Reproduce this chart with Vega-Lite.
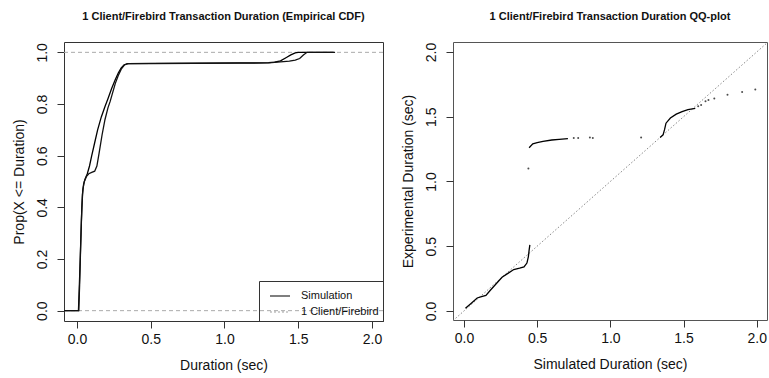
{
  "$schema": "https://vega.github.io/schema/vega-lite/v6.json",
  "padding": {"left": 11, "top": 10, "right": 0, "bottom": 0},
  "bounds": "flush",
  "spacing": 70,
  "background": "white",
  "config": {
    "font": "Liberation Sans",
    "view": {"stroke": "#333", "strokeWidth": 1},
    "axis": {"domain": false, "grid": false, "tickColor": "#333", "tickSize": 7, "labelFontSize": 14, "titleFontSize": 14, "titleFontWeight": "normal", "labelColor": "#111", "titleColor": "#111", "labelFont": "Liberation Sans", "titleFont": "Liberation Sans", "labelFlush": false, "labelOverlap": false},
    "axisX": {"labelPadding": 4, "titlePadding": 12},
    "axisY": {"labelAngle": -90, "labelAlign": "center", "labelBaseline": "bottom", "labelPadding": 8, "titlePadding": 9},
    "title": {"fontSize": 11, "fontWeight": "bold", "anchor": "middle", "offset": 20, "color": "#111", "font": "Liberation Sans"},
    "legend": {"orient": "bottom-right", "offset": 0, "strokeColor": "#333", "padding": 4, "symbolType": "stroke", "symbolSize": 400, "symbolStrokeWidth": 1.2, "symbolOffset": 6, "labelFontSize": 11, "labelFont": "Liberation Sans", "labelColor": "#111", "rowPadding": -9, "labelOffset": 10}
  },
  "datasets": {
    "ecdf": [
      {"series": "Simulation", "dur": -0.09, "prop": 0},
      {"series": "Simulation", "dur": 0.01, "prop": 0},
      {"series": "Simulation", "dur": 0.015, "prop": 0.08},
      {"series": "Simulation", "dur": 0.022, "prop": 0.2},
      {"series": "Simulation", "dur": 0.03, "prop": 0.35},
      {"series": "Simulation", "dur": 0.037, "prop": 0.45},
      {"series": "Simulation", "dur": 0.045, "prop": 0.49},
      {"series": "Simulation", "dur": 0.055, "prop": 0.51},
      {"series": "Simulation", "dur": 0.07, "prop": 0.53},
      {"series": "Simulation", "dur": 0.085, "prop": 0.56},
      {"series": "Simulation", "dur": 0.1, "prop": 0.6},
      {"series": "Simulation", "dur": 0.12, "prop": 0.65},
      {"series": "Simulation", "dur": 0.14, "prop": 0.7},
      {"series": "Simulation", "dur": 0.165, "prop": 0.75},
      {"series": "Simulation", "dur": 0.19, "prop": 0.79},
      {"series": "Simulation", "dur": 0.21, "prop": 0.82},
      {"series": "Simulation", "dur": 0.235, "prop": 0.86},
      {"series": "Simulation", "dur": 0.26, "prop": 0.895},
      {"series": "Simulation", "dur": 0.28, "prop": 0.92},
      {"series": "Simulation", "dur": 0.3, "prop": 0.94},
      {"series": "Simulation", "dur": 0.32, "prop": 0.952},
      {"series": "Simulation", "dur": 0.35, "prop": 0.956},
      {"series": "Simulation", "dur": 0.5, "prop": 0.957},
      {"series": "Simulation", "dur": 0.8, "prop": 0.958},
      {"series": "Simulation", "dur": 1.1, "prop": 0.959},
      {"series": "Simulation", "dur": 1.3, "prop": 0.96},
      {"series": "Simulation", "dur": 1.34, "prop": 0.962},
      {"series": "Simulation", "dur": 1.38, "prop": 0.967},
      {"series": "Simulation", "dur": 1.42, "prop": 0.98},
      {"series": "Simulation", "dur": 1.45, "prop": 0.99},
      {"series": "Simulation", "dur": 1.48, "prop": 0.998},
      {"series": "Simulation", "dur": 1.5, "prop": 1.0},
      {"series": "Simulation", "dur": 1.74, "prop": 1.0},
      {"series": "1 Client/Firebird", "dur": -0.09, "prop": 0},
      {"series": "1 Client/Firebird", "dur": 0.012, "prop": 0},
      {"series": "1 Client/Firebird", "dur": 0.018, "prop": 0.1},
      {"series": "1 Client/Firebird", "dur": 0.025, "prop": 0.25},
      {"series": "1 Client/Firebird", "dur": 0.033, "prop": 0.4},
      {"series": "1 Client/Firebird", "dur": 0.04, "prop": 0.47},
      {"series": "1 Client/Firebird", "dur": 0.05, "prop": 0.5},
      {"series": "1 Client/Firebird", "dur": 0.065, "prop": 0.52},
      {"series": "1 Client/Firebird", "dur": 0.08, "prop": 0.53},
      {"series": "1 Client/Firebird", "dur": 0.1, "prop": 0.535},
      {"series": "1 Client/Firebird", "dur": 0.12, "prop": 0.54},
      {"series": "1 Client/Firebird", "dur": 0.135, "prop": 0.56},
      {"series": "1 Client/Firebird", "dur": 0.15, "prop": 0.61},
      {"series": "1 Client/Firebird", "dur": 0.17, "prop": 0.68},
      {"series": "1 Client/Firebird", "dur": 0.19, "prop": 0.74},
      {"series": "1 Client/Firebird", "dur": 0.21, "prop": 0.785},
      {"series": "1 Client/Firebird", "dur": 0.225, "prop": 0.81},
      {"series": "1 Client/Firebird", "dur": 0.24, "prop": 0.84},
      {"series": "1 Client/Firebird", "dur": 0.26, "prop": 0.88},
      {"series": "1 Client/Firebird", "dur": 0.28, "prop": 0.91},
      {"series": "1 Client/Firebird", "dur": 0.3, "prop": 0.935},
      {"series": "1 Client/Firebird", "dur": 0.32, "prop": 0.95},
      {"series": "1 Client/Firebird", "dur": 0.34, "prop": 0.956},
      {"series": "1 Client/Firebird", "dur": 0.5, "prop": 0.956},
      {"series": "1 Client/Firebird", "dur": 0.8, "prop": 0.957},
      {"series": "1 Client/Firebird", "dur": 1.1, "prop": 0.958},
      {"series": "1 Client/Firebird", "dur": 1.3, "prop": 0.959},
      {"series": "1 Client/Firebird", "dur": 1.38, "prop": 0.963},
      {"series": "1 Client/Firebird", "dur": 1.44, "prop": 0.966},
      {"series": "1 Client/Firebird", "dur": 1.48, "prop": 0.97},
      {"series": "1 Client/Firebird", "dur": 1.51, "prop": 0.976},
      {"series": "1 Client/Firebird", "dur": 1.535, "prop": 0.99},
      {"series": "1 Client/Firebird", "dur": 1.56, "prop": 1.0},
      {"series": "1 Client/Firebird", "dur": 1.75, "prop": 1.0}
    ],
    "refs": [{"level": 0}, {"level": 1}],
    "qqline": [
      {"seg": "a", "sim": 0.01, "exp": 0.02},
      {"seg": "a", "sim": 0.05, "exp": 0.06},
      {"seg": "a", "sim": 0.09, "exp": 0.1},
      {"seg": "a", "sim": 0.12, "exp": 0.11},
      {"seg": "a", "sim": 0.15, "exp": 0.12},
      {"seg": "a", "sim": 0.18, "exp": 0.16},
      {"seg": "a", "sim": 0.22, "exp": 0.21},
      {"seg": "a", "sim": 0.26, "exp": 0.26},
      {"seg": "a", "sim": 0.3, "exp": 0.29},
      {"seg": "a", "sim": 0.34, "exp": 0.32},
      {"seg": "a", "sim": 0.38, "exp": 0.33},
      {"seg": "a", "sim": 0.41, "exp": 0.34},
      {"seg": "a", "sim": 0.43, "exp": 0.37},
      {"seg": "a", "sim": 0.44, "exp": 0.42},
      {"seg": "a", "sim": 0.445, "exp": 0.47},
      {"seg": "a", "sim": 0.45, "exp": 0.51},
      {"seg": "b", "sim": 0.445, "exp": 1.26},
      {"seg": "b", "sim": 0.47, "exp": 1.29},
      {"seg": "b", "sim": 0.5, "exp": 1.3},
      {"seg": "b", "sim": 0.54, "exp": 1.31},
      {"seg": "b", "sim": 0.6, "exp": 1.32},
      {"seg": "b", "sim": 0.65, "exp": 1.325},
      {"seg": "b", "sim": 0.71, "exp": 1.33},
      {"seg": "c", "sim": 1.34, "exp": 1.34},
      {"seg": "c", "sim": 1.36, "exp": 1.36},
      {"seg": "c", "sim": 1.37, "exp": 1.4},
      {"seg": "c", "sim": 1.38, "exp": 1.45},
      {"seg": "c", "sim": 1.41, "exp": 1.49},
      {"seg": "c", "sim": 1.45, "exp": 1.52},
      {"seg": "c", "sim": 1.49, "exp": 1.54},
      {"seg": "c", "sim": 1.53, "exp": 1.555},
      {"seg": "c", "sim": 1.58, "exp": 1.565}
    ],
    "qqpts": [
      {"sim": 0.44, "exp": 1.1},
      {"sim": 0.75, "exp": 1.335},
      {"sim": 0.78, "exp": 1.335},
      {"sim": 0.86, "exp": 1.34},
      {"sim": 0.88, "exp": 1.335},
      {"sim": 1.21, "exp": 1.34},
      {"sim": 1.6, "exp": 1.58},
      {"sim": 1.62, "exp": 1.59},
      {"sim": 1.65, "exp": 1.62},
      {"sim": 1.67, "exp": 1.63},
      {"sim": 1.71, "exp": 1.64},
      {"sim": 1.8, "exp": 1.67},
      {"sim": 1.9, "exp": 1.69},
      {"sim": 1.99, "exp": 1.71}
    ]
  },
  "resolve": {"scale": {"color": "independent"}, "legend": {"color": "independent"}},
  "hconcat": [
    {
      "width": 319,
      "height": 279,
      "title": {"text": "1 Client/Firebird Transaction Duration (Empirical CDF)"},
      "layer": [
        {
          "data": {"name": "refs"},
          "mark": {"type": "rule", "stroke": "#aaaaaa", "strokeDash": [4, 3], "strokeWidth": 1},
          "encoding": {
            "y": {"field": "level", "type": "quantitative", "title": "Prop(X <= Duration)", "scale": {"domain": [-0.04, 1.04], "nice": false, "zero": false}, "axis": {"values": [0, 0.2, 0.4, 0.6, 0.8, 1.0], "format": ".1f"}}
          }
        },
        {
          "data": {"name": "ecdf"},
          "mark": {"type": "line", "clip": true, "strokeWidth": 1.3},
          "encoding": {
            "x": {"field": "dur", "type": "quantitative", "title": "Duration (sec)", "scale": {"domain": [-0.088, 2.075], "nice": false, "zero": false}, "axis": {"values": [0, 0.5, 1.0, 1.5, 2.0], "format": ".1f"}},
            "y": {"field": "prop", "type": "quantitative", "title": "Prop(X <= Duration)", "scale": {"domain": [-0.04, 1.04], "nice": false, "zero": false}, "axis": {"values": [0, 0.2, 0.4, 0.6, 0.8, 1.0], "format": ".1f"}},
            "color": {"field": "series", "type": "nominal", "scale": {"domain": ["Simulation", "1 Client/Firebird"], "range": ["#000000", "#111111"]},
              "legend": {"title": null, "encode": {"symbols": {"update": {"strokeDash": {"signal": "datum.value === '1 Client/Firebird' ? [2, 2] : [1, 0]"}, "strokeOpacity": {"signal": "datum.value === '1 Client/Firebird' ? 0.4 : 1"}}}}}},
            "order": {"field": "dur", "type": "quantitative"}
          }
        }
      ]
    },
    {
      "width": 314,
      "height": 278,
      "title": {"text": "1 Client/Firebird Transaction Duration QQ-plot"},
      "view": {"stroke": "#555"},
      "layer": [
        {
          "data": {"values": [{}]},
          "mark": {"type": "rule", "stroke": "#888888", "strokeDash": [1.5, 2], "strokeWidth": 1, "clip": true},
          "encoding": {
            "x": {"datum": -0.075, "type": "quantitative", "title": "Simulated Duration (sec)", "scale": {"domain": [-0.075, 2.07], "nice": false, "zero": false}, "axis": {"values": [0, 0.5, 1.0, 1.5, 2.0], "format": ".1f"}},
            "y": {"datum": -0.075, "type": "quantitative", "title": "Experimental Duration (sec)", "scale": {"domain": [-0.07, 2.077], "nice": false, "zero": false}, "axis": {"values": [0, 0.5, 1.0, 1.5, 2.0], "format": ".1f"}},
            "x2": {"datum": 2.08},
            "y2": {"datum": 2.08}
          }
        },
        {
          "data": {"name": "qqline"},
          "mark": {"type": "line", "stroke": "#000", "strokeWidth": 1.3, "clip": true},
          "encoding": {
            "x": {"field": "sim", "type": "quantitative", "title": "Simulated Duration (sec)"},
            "y": {"field": "exp", "type": "quantitative", "title": "Experimental Duration (sec)"},
            "detail": {"field": "seg", "type": "nominal"}
          }
        },
        {
          "data": {"name": "qqpts"},
          "mark": {"type": "point", "filled": true, "color": "#000", "size": 4, "clip": true},
          "encoding": {
            "x": {"field": "sim", "type": "quantitative", "title": "Simulated Duration (sec)"},
            "y": {"field": "exp", "type": "quantitative", "title": "Experimental Duration (sec)"}
          }
        }
      ]
    }
  ]
}
